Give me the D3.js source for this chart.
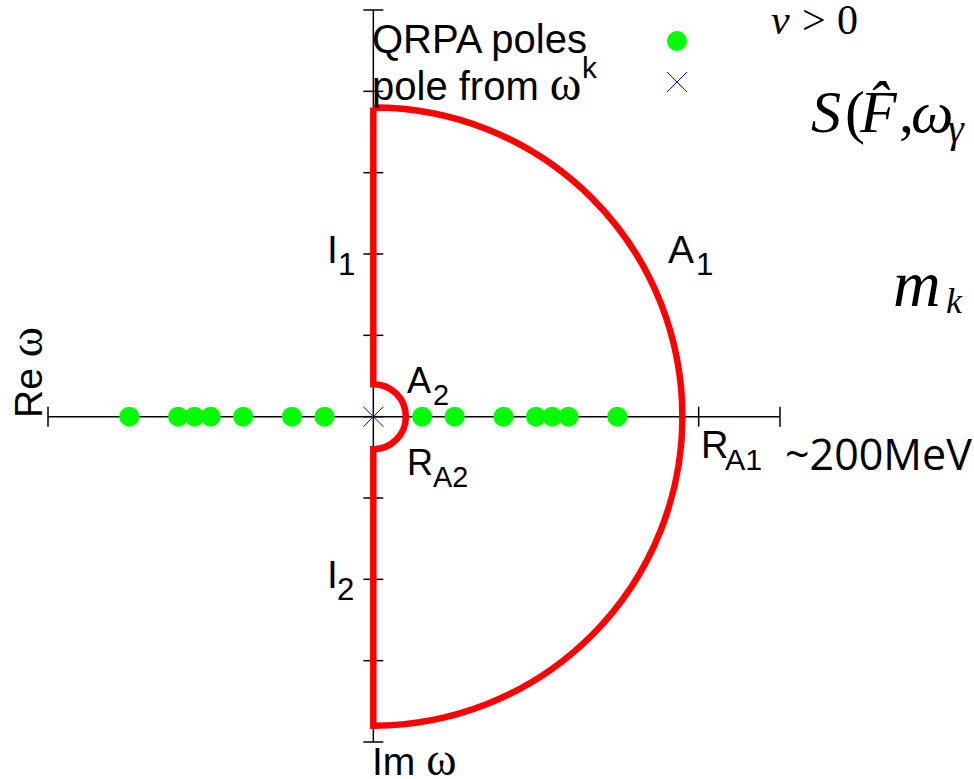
<!DOCTYPE html>
<html>
<head>
<meta charset="utf-8">
<script src="https://cdn.jsdelivr.net/npm/d3@7"></script>
<style>
  body { margin: 0; background: #fff; }
  svg { display: block; }
  .sans { font-family: "Liberation Sans", Arial, sans-serif; }
  .serif { font-family: "Liberation Serif", "DejaVu Serif", serif; }
</style>
</head>
<body>
<svg width="974" height="779"></svg>
<script>
// pole positions on the real axis (units of the plot)
const qrpaPoles = [-3.0, -2.4, -2.2, -2.0, -1.6, -1.0, -0.6, 0.6, 1.0, 1.6, 2.0, 2.2, 2.4, 3.0];
const kPoles = [0];
// imaginary axis ticks and real axis ticks
const imTicks = [-4, -3, -2, -1, 0, 1, 2, 3, 4, 5];
const reTicks = [-4, 4, 5];
// contour radii
const radiusA1 = 3.8;
const radiusA2 = 0.4;

const svg = d3.select("svg");

const x = d3.scaleLinear().domain([-4, 5]).range([48, 780]);
const y = d3.scaleLinear().domain([-4, 5]).range([742, 10]);

const x0 = x(0), y0 = y(0);

// axes
svg.append("line")
    .attr("x1", x(-4)).attr("x2", x(5))
    .attr("y1", y0).attr("y2", y0)
    .attr("stroke", "black").attr("stroke-width", 1.5);
svg.append("line")
    .attr("x1", x0).attr("x2", x0)
    .attr("y1", y(5)).attr("y2", y(-4))
    .attr("stroke", "black").attr("stroke-width", 1.5);

svg.selectAll(".imtick").data(imTicks).enter().append("line")
    .attr("class", "imtick")
    .attr("x1", x0 - 10).attr("x2", x0 + 10)
    .attr("y1", d => y(d)).attr("y2", d => y(d))
    .attr("stroke", "black").attr("stroke-width", 1.5);

svg.selectAll(".retick").data(reTicks).enter().append("line")
    .attr("class", "retick")
    .attr("x1", d => x(d)).attr("x2", d => x(d))
    .attr("y1", y0 - 10).attr("y2", y0 + 10)
    .attr("stroke", "black").attr("stroke-width", 1.5);

// integration contour
const r1 = x(radiusA1) - x0;
const r2 = x(radiusA2) - x0;
const contour = d3.path();
contour.moveTo(x0, y(radiusA1));
contour.lineTo(x0, y(radiusA2));
contour.arc(x0, y0, r2, -Math.PI / 2, Math.PI / 2, false);
contour.lineTo(x0, y(-radiusA1));
contour.arc(x0, y0, r1, Math.PI / 2, -Math.PI / 2, true);

svg.append("path")
    .attr("d", contour.toString())
    .attr("fill", "none")
    .attr("stroke", "#ff0000")
    .attr("stroke-width", 6.5)
    .attr("stroke-linejoin", "miter");

// poles
svg.selectAll(".pole").data(qrpaPoles).enter().append("circle")
    .attr("class", "pole")
    .attr("cx", d => x(d)).attr("cy", y0)
    .attr("r", 10)
    .attr("fill", "#00ff00");

function cross(g, cx, cy, h) {
    g.append("line").attr("x1", cx - h).attr("x2", cx + h).attr("y1", cy - h).attr("y2", cy + h);
    g.append("line").attr("x1", cx - h).attr("x2", cx + h).attr("y1", cy + h).attr("y2", cy - h);
}

const kg = svg.append("g").attr("stroke", "#0000ff").attr("stroke-width", 1);
kPoles.forEach(d => cross(kg, x(d), y0, 10));

// legend
svg.append("text").attr("class", "sans").attr("x", 372).attr("y", 53)
    .attr("font-size", 40).text("QRPA poles");
const leg2 = svg.append("text").attr("class", "sans").attr("x", 372).attr("y", 100)
    .attr("font-size", 40);
leg2.append("tspan").text("pole from ");
leg2.append("tspan").attr("class", "serif").attr("font-size", 48).text("ω");
svg.append("text").attr("class", "sans").attr("x", 582).attr("y", 78)
    .attr("font-size", 30).text("k");
svg.append("circle").attr("cx", 677).attr("cy", 41).attr("r", 10).attr("fill", "#00ff00");
const lg = svg.append("g").attr("stroke", "#0000ff").attr("stroke-width", 1);
cross(lg, 677, 82, 10);

// labels with subscripts
function subLabel(px, py, main, sub, sx, size) {
    svg.append("text").attr("class", "sans").attr("x", px).attr("y", py)
        .attr("font-size", size).text(main);
    svg.append("text").attr("class", "sans").attr("x", sx).attr("y", py + 12)
        .attr("font-size", size * 0.8).text(sub);
}
subLabel(327, 263, "I", "1", 338, 39);
subLabel(668, 263, "A", "1", 696, 39);
subLabel(407, 393, "A", "2", 433, 36);
subLabel(407, 475, "R", "A2", 433, 36);
subLabel(327, 588, "I", "2", 337, 39);
subLabel(701, 458, "R", "A1", 725, 38);

svg.append("text").attr("x", 785).attr("y", 470)
    .attr("font-family", "'Open Sans', sans-serif")
    .attr("font-size", 43).text("~200MeV");

// axis names
const im = svg.append("text").attr("class", "sans").attr("x", 372).attr("y", 775)
    .attr("font-size", 39);
im.append("tspan").text("Im ");
im.append("tspan").attr("class", "serif").attr("font-size", 46).text("ω");

const re = svg.append("text").attr("class", "sans")
    .attr("transform", "translate(42,418) rotate(-90)")
    .attr("font-size", 39);
re.append("tspan").text("Re ");
re.append("tspan").attr("class", "serif").attr("font-size", 46).text("ω");

// math annotations on the right
const nu = svg.append("text").attr("class", "serif").attr("y", 34).attr("font-size", 42);
nu.append("tspan").attr("x", 771).attr("font-style", "italic").text("ν");
nu.append("tspan").attr("x", 802).text(">");
nu.append("tspan").attr("x", 837).text("0");

const s = svg.append("text").attr("class", "serif").attr("y", 132).attr("font-size", 60);
s.append("tspan").attr("x", 811).attr("font-style", "italic").text("S");
s.append("tspan").attr("x", 845).text("(");
s.append("tspan").attr("x", 860).attr("font-style", "italic").text("F\u0302");
s.append("tspan").attr("x", 899).text(",");
s.append("tspan").attr("x", 911).attr("font-style", "italic").text("ω");
s.append("tspan").attr("x", 948).attr("font-style", "italic").attr("font-size", 40).attr("dy", 10).text("γ");

const m = svg.append("text").attr("class", "serif").attr("y", 306).attr("font-size", 66);
m.append("tspan").attr("x", 893).attr("font-style", "italic").text("m");
m.append("tspan").attr("x", 946).attr("font-style", "italic").attr("font-size", 36).attr("dy", 7).text("k");
</script>
</body>
</html>
